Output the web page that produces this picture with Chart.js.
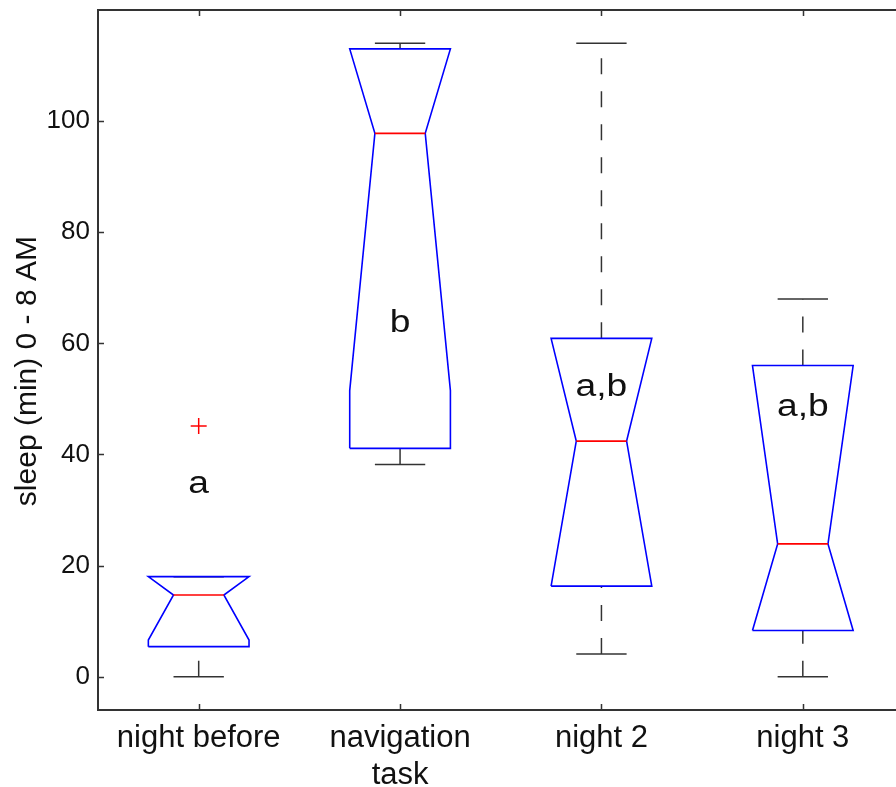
<!DOCTYPE html>
<html lang="en">
<head>
  <meta charset="UTF-8">
  <title>sleep (min) 0 - 8 AM</title>
  <script src="https://cdn.jsdelivr.net/npm/chart.js"></script>
  <style>
    body {
      margin: 0;
      background: #fff;
      overflow: hidden;
    }
  </style>
</head>
<body>
  <canvas id="sleepChart" width="913" height="787"></canvas>
  <script>
    // groups and box statistics (minutes)
    const categories = ['night before', ['navigation', 'task'], 'night 2', 'night 3'];
    const q1 = [5.4, 41.1, 16.3, 8.3];
    const medians = [14.7, 97.8, 42.4, 23.9];
    const q3 = [18.0, 113.0, 60.9, 56.0];
    const notchLo = [6.6, 51.5, 16.3, 8.3];
    const notchHi = [18.0, 113.0, 60.9, 56.0];
    const whiskerLo = [0, 38.2, 4.1, 0];
    const whiskerHi = [18.0, 114.0, 114.0, 68.0];
    const outliers = [{ x: 1, y: 45.1 }];
    const letters = ['a', 'b', 'a,b', 'a,b'];
    const letterY = [33.0, 62.0, 50.5, 47.0];
    const yTicks = [0, 20, 40, 60, 80, 100];
    const yTitle = 'sleep (min) 0 - 8 AM';

    const FONT = "'Liberation Sans', Arial, sans-serif";
    const boxW = 0.25, notchW = 0.125;

    const datasets = [];
    const line = (pts, color, extra) => Object.assign({
      type: 'line',
      data: pts,
      borderColor: color,
      borderWidth: 1.6,
      pointRadius: 0,
      fill: false,
      tension: 0
    }, extra || {});

    categories.forEach((c, i) => {
      const x = i + 1;
      const lo = Math.max(notchLo[i], q1[i]);
      const hi = Math.min(notchHi[i], q3[i]);
      // whiskers, drawn from the lower end upwards
      datasets.push(line([{ x, y: whiskerLo[i] }, { x, y: q1[i] }], '#333', { borderDash: [16, 17], borderWidth: 1.5, order: 5 }));
      datasets.push(line([{ x, y: q3[i] }, { x, y: whiskerHi[i] }], '#333', { borderDash: [16, 17], borderWidth: 1.5, order: 5 }));
      datasets.push(line([{ x: x - notchW, y: whiskerLo[i] }, { x: x + notchW, y: whiskerLo[i] }], '#333', { borderWidth: 1.5, order: 5 }));
      datasets.push(line([{ x: x - notchW, y: whiskerHi[i] }, { x: x + notchW, y: whiskerHi[i] }], '#333', { borderWidth: 1.5, order: 5 }));
      // notched box
      datasets.push(line([
        { x: x - boxW, y: q1[i] },
        { x: x - boxW, y: lo },
        { x: x - notchW, y: medians[i] },
        { x: x - boxW, y: hi },
        { x: x - boxW, y: q3[i] },
        { x: x + boxW, y: q3[i] },
        { x: x + boxW, y: hi },
        { x: x + notchW, y: medians[i] },
        { x: x + boxW, y: lo },
        { x: x + boxW, y: q1[i] },
        { x: x - boxW, y: q1[i] }
      ], '#0000ff', { order: 3 }));
      datasets.push(line([{ x: x - notchW, y: medians[i] }, { x: x + notchW, y: medians[i] }], '#ff0000', { order: 1 }));
    });

    datasets.push({
      type: 'scatter',
      data: outliers,
      pointStyle: 'cross',
      pointRadius: 8,
      borderColor: '#ff0000',
      borderWidth: 1.5,
      order: 0
    });

    const framePlugin = {
      id: 'frame',
      afterDatasetsDraw(chart) {
        const { ctx, chartArea: a, scales: { x, y } } = chart;
        ctx.save();
        // group letters (slightly wide face, like the original)
        ctx.fillStyle = '#111';
        ctx.font = '31px ' + FONT;
        ctx.textAlign = 'center';
        ctx.textBaseline = 'alphabetic';
        letters.forEach((t, i) => {
          ctx.save();
          ctx.translate(x.getPixelForValue(i + 1), y.getPixelForValue(letterY[i]));
          ctx.scale(1.2, 1);
          ctx.fillText(t, 0, 0);
          ctx.restore();
        });
        // y title, sits a bit below the middle of the axis
        ctx.save();
        ctx.font = '30px ' + FONT;
        ctx.textBaseline = 'middle';
        ctx.translate(28, y.getPixelForValue(55));
        ctx.rotate(-Math.PI / 2);
        ctx.fillText(yTitle, 0, 0);
        ctx.restore();
        // box frame with inward ticks
        ctx.strokeStyle = '#333';
        ctx.lineWidth = 2;
        ctx.strokeRect(a.left, a.top, a.right - a.left, a.bottom - a.top);
        ctx.lineWidth = 1.5;
        ctx.beginPath();
        yTicks.forEach(v => {
          const py = Math.round(y.getPixelForValue(v)) + 0.5;
          ctx.moveTo(a.left, py); ctx.lineTo(a.left + 6, py);
          ctx.moveTo(a.right, py); ctx.lineTo(a.right - 6, py);
        });
        categories.forEach((c, i) => {
          const px = Math.round(x.getPixelForValue(i + 1)) + 0.5;
          ctx.moveTo(px, a.bottom); ctx.lineTo(px, a.bottom - 6);
          ctx.moveTo(px, a.top); ctx.lineTo(px, a.top + 6);
        });
        ctx.stroke();
        ctx.restore();
      }
    };

    new Chart(document.getElementById('sleepChart'), {
      data: { datasets },
      plugins: [framePlugin],
      options: {
        responsive: false,
        animation: false,
        layout: { padding: { top: 10, right: 1, left: 0, bottom: 0 } },
        plugins: {
          legend: { display: false },
          tooltip: { enabled: false }
        },
        scales: {
          x: {
            type: 'linear',
            min: 0.5,
            max: 4.5,
            grid: { display: false, drawTicks: false },
            border: { display: false },
            afterBuildTicks: s => { s.ticks = categories.map((c, i) => ({ value: i + 1 })); },
            afterFit: s => { s.height = 77; s.paddingLeft = 0; s.paddingRight = 0; },
            ticks: {
              autoSkip: false,
              maxRotation: 0,
              padding: 10,
              color: '#111',
              font: { family: FONT, size: 31 },
              callback: v => categories[v - 1]
            }
          },
          y: {
            type: 'linear',
            min: -6,
            max: 120,
            grid: { display: false, drawTicks: false },
            border: { display: false },
            afterBuildTicks: s => { s.ticks = yTicks.map(v => ({ value: v })); },
            afterFit: s => { s.width = 98; s.paddingTop = 0; s.paddingBottom = 0; },
            ticks: {
              padding: 8,
              color: '#111',
              font: { family: FONT, size: 26 }
            }
          }
        }
      }
    });
  </script>
</body>
</html>
